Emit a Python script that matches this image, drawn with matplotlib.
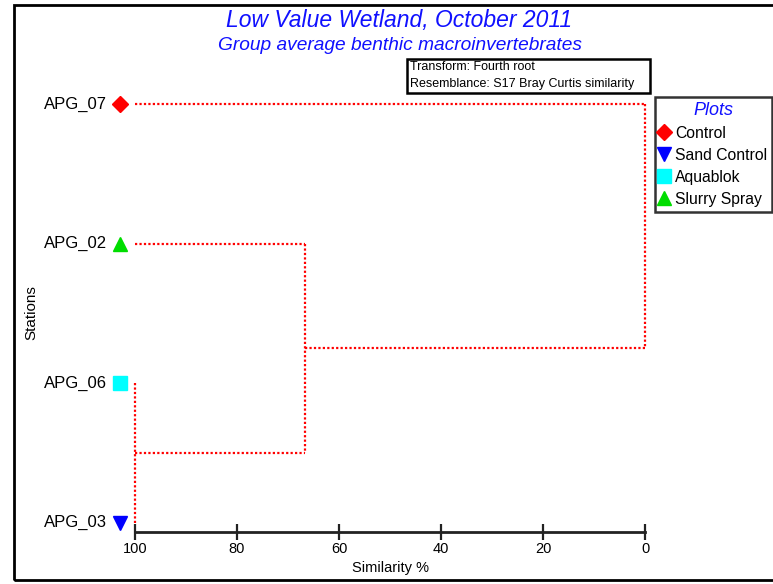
import matplotlib.pyplot as plt
from matplotlib.patches import Rectangle
from matplotlib.lines import Line2D

plt.rcParams['font.family'] = ['Liberation Sans', 'DejaVu Sans']

# stations, top to bottom
stations = ["APG_07", "APG_02", "APG_06", "APG_03"]
groups = ["Control", "Slurry Spray", "Aquablok", "Sand Control"]

# group styles
group_names = ["Control", "Sand Control", "Aquablok", "Slurry Spray"]
group_markers = ["D", "v", "s", "^"]
group_colors = ["#ff0000", "#0000ff", "#00ffff", "#00dd00"]

# merges: (left member, right member, similarity %)
merges = [("APG_06", "APG_03", 100.0),
          ("APG_02", 0, 66.7),
          ("APG_07", 1, 0.0)]

x_ticks = [100, 80, 60, 40, 20, 0]

fig = plt.figure(figsize=(7.73, 5.84), dpi=100)
ax = fig.add_axes([135 / 773, 52 / 584, 510 / 773, 456 / 584])

n = len(stations)
ypos = {s: n - 1 - i for i, s in enumerate(stations)}

# dendrogram
nodes = []
line_kw = dict(color="#ff0000", linestyle=(0, (1, 1)), linewidth=1.6,
               clip_on=False)
for a, b, sim in merges:
    pts = []
    for m in (a, b):
        if isinstance(m, str):
            pts.append((ypos[m], 100.0))
        else:
            pts.append(nodes[m])
    for y, h in pts:
        if h != sim:
            ax.plot([h, sim], [y, y], **line_kw)
    ax.plot([sim, sim], [pts[0][0], pts[1][0]], **line_kw)
    nodes.append(((pts[0][0] + pts[1][0]) / 2, sim))

# station markers and labels
for s, g in zip(stations, groups):
    k = group_names.index(g)
    ax.plot(103.0, ypos[s], marker=group_markers[k], color=group_colors[k],
            markersize=10 if group_markers[k] != "D" else 8, clip_on=False,
            linestyle="none")
    ax.text(105.4, ypos[s], s, ha="right", va="center", fontsize=12)

ax.set_xlim(100, 0)
ax.set_ylim(-0.065, 3.2)
for sp in ["top", "right", "left"]:
    ax.spines[sp].set_visible(False)
ax.spines["bottom"].set_linewidth(2)
ax.spines["bottom"].set_color("#222222")
ax.set_yticks([])
ax.set_xticks(x_ticks)
ax.tick_params(axis="x", direction="inout", length=11, width=1.6,
               labelsize=10.5, pad=2, color="#222222")
ax.set_xlabel("Similarity %", fontsize=10.5, labelpad=3)
ax.set_ylabel("Stations", fontsize=11, labelpad=0)
ax.yaxis.set_label_coords(-(135 - 38) / 510, (532 - 313) / 456)

# titles
fig.text(399 / 773, 1 - 21 / 584, "Low Value Wetland, October 2011",
         color="#1010ff", style="italic", fontsize=16.5, ha="center", va="center")
fig.text(400 / 773, 1 - 46 / 584, "Group average benthic macroinvertebrates",
         color="#1010ff", style="italic", fontsize=13.8, ha="center", va="center")

# info box
fig.patches.append(Rectangle((407 / 773, 1 - 93 / 584), 243 / 773, 34 / 584,
                             transform=fig.transFigure, fill=False,
                             edgecolor="black", linewidth=1.8))
info_font = ['Liberation Sans Narrow', 'Liberation Sans']
fig.text(410 / 773, 1 - 67 / 584, "Transform: Fourth root", fontsize=9,
         va="center", ha="left", family=info_font)
fig.text(410 / 773, 1 - 84 / 584, "Resemblance: S17 Bray Curtis similarity",
         fontsize=9, va="center", ha="left", family=info_font)

# legend
handles = [Line2D([], [], marker=mk, color=c, linestyle="none",
                  markersize=10 if mk != "D" else 8)
           for mk, c in zip(group_markers, group_colors)]
leg = fig.legend(handles, group_names, title="Plots", loc="upper left",
                 bbox_to_anchor=(655 / 773, 1 - 97 / 584), fontsize=11.3,
                 frameon=True, fancybox=False, handlelength=0.6,
                 handletextpad=0.4, borderpad=0.3, labelspacing=0.45,
                 borderaxespad=0, edgecolor="black")
leg.get_frame().set_linewidth(1.8)
leg.get_title().set_color("#1010ff")
leg.get_title().set_style("italic")
leg.get_title().set_fontsize(13)

# outer frame
fig.patches.append(Rectangle((14 / 773, 4 / 584), 1.0, 575 / 584,
                             transform=fig.transFigure, fill=False,
                             edgecolor="black", linewidth=2))

fig.savefig("out.png", dpi=100)
